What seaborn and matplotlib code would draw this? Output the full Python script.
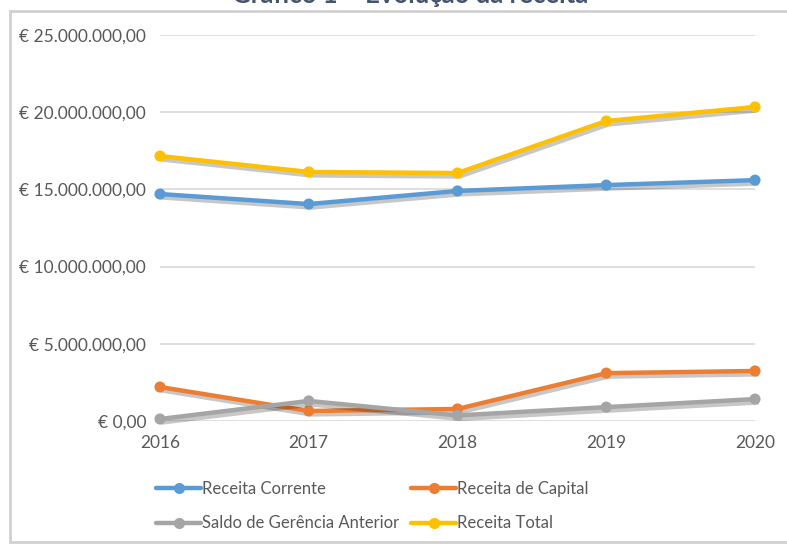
import pandas as pd
import matplotlib
matplotlib.use("Agg")
import matplotlib.pyplot as plt
import matplotlib.patheffects as pe
from matplotlib.patches import Rectangle
from matplotlib.ticker import FuncFormatter
import seaborn as sns

# data (euros)
years = [2016, 2017, 2018, 2019, 2020]
receita_corrente = [14700000, 14050000, 14900000, 15280000, 15600000]
receita_capital = [2200000, 650000, 780000, 3100000, 3240000]
saldo_gerencia = [130000, 1300000, 360000, 900000, 1420000]
receita_total = [17160000, 16130000, 16060000, 19430000, 20340000]

series_names = ["Receita Corrente", "Receita de Capital",
                "Saldo de Gerência Anterior", "Receita Total"]
colors = ["#5B9BD5", "#ED7D31", "#A5A5A5", "#FFC000"]
y_ticks = [0, 5000000, 10000000, 15000000, 20000000, 25000000]

df = pd.DataFrame({
    "Ano": years * 4,
    "Valor": receita_corrente + receita_capital + saldo_gerencia + receita_total,
    "Serie": [n for n in series_names for _ in years],
})

sns.set_style("white")
plt.rcParams["font.family"] = ["Lato", "DejaVu Sans"]

fig = plt.figure(figsize=(7.87, 5.45), dpi=100)
W, H = 787, 545
ax = fig.add_axes([160 / W, 1 - 421 / H, (755 - 160) / W, (421 - 35) / H])

sns.lineplot(data=df, x="Ano", y="Valor", hue="Serie", hue_order=series_names,
             palette=colors, marker="o", markersize=8, markeredgewidth=0,
             linewidth=3.2, ax=ax, legend=False)

shadow = [pe.SimpleLineShadow(offset=(1.5, -2.5), alpha=0.22, shadow_color="black"),
          pe.Normal()]
for line in ax.lines:
    line.set_clip_on(False)
    line.set_path_effects(shadow)

ax.set_xlim(2016, 2020)
ax.set_ylim(0, 25000000)
ax.set_xticks(years)
ax.set_yticks(y_ticks)


def euro(v, pos):
    s = f"{v:,.2f}".replace(",", "X").replace(".", ",").replace("X", ".")
    return "€ " + s


ax.yaxis.set_major_formatter(FuncFormatter(euro))
ax.grid(axis="y", color="#D9D9D9", linewidth=1.2)
ax.set_axisbelow(True)
for sp in ax.spines.values():
    sp.set_visible(False)
ax.tick_params(axis="both", length=0, labelsize=12.5, labelcolor="#595959")
ax.tick_params(axis="y", pad=10)
ax.tick_params(axis="x", pad=10)
ax.set_xlabel("")
ax.set_ylabel("")

# legend, two columns, filled column-wise
handles = {}
for name, c in zip(series_names, colors):
    handles[name] = plt.Line2D([], [], color=c, linewidth=3.2, marker="o",
                               markersize=8, markeredgewidth=0)
order = ["Receita Corrente", "Saldo de Gerência Anterior",
         "Receita de Capital", "Receita Total"]
fig.legend([handles[n] for n in order], order, ncol=2, frameon=False,
           loc="upper left", bbox_to_anchor=(141 / W, 1 - 466 / H),
           fontsize=12, labelcolor="#595959", handlelength=2.7,
           handletextpad=0.05, columnspacing=0.75, labelspacing=1.1)

# chart frame and clipped title
fig.patches.append(Rectangle((10 / W, 3 / H), (W - 9) / W, (H - 14) / H,
                             transform=fig.transFigure, fill=False,
                             edgecolor="#D0D0D0", linewidth=2))
fig.text(410 / W, 1 - 3 / H, "Gráfico 1 – Evolução da receita",
         ha="center", va="baseline", fontsize=18.5, fontweight="bold",
         color="#44546A")

fig.savefig("out.png", dpi=100)
